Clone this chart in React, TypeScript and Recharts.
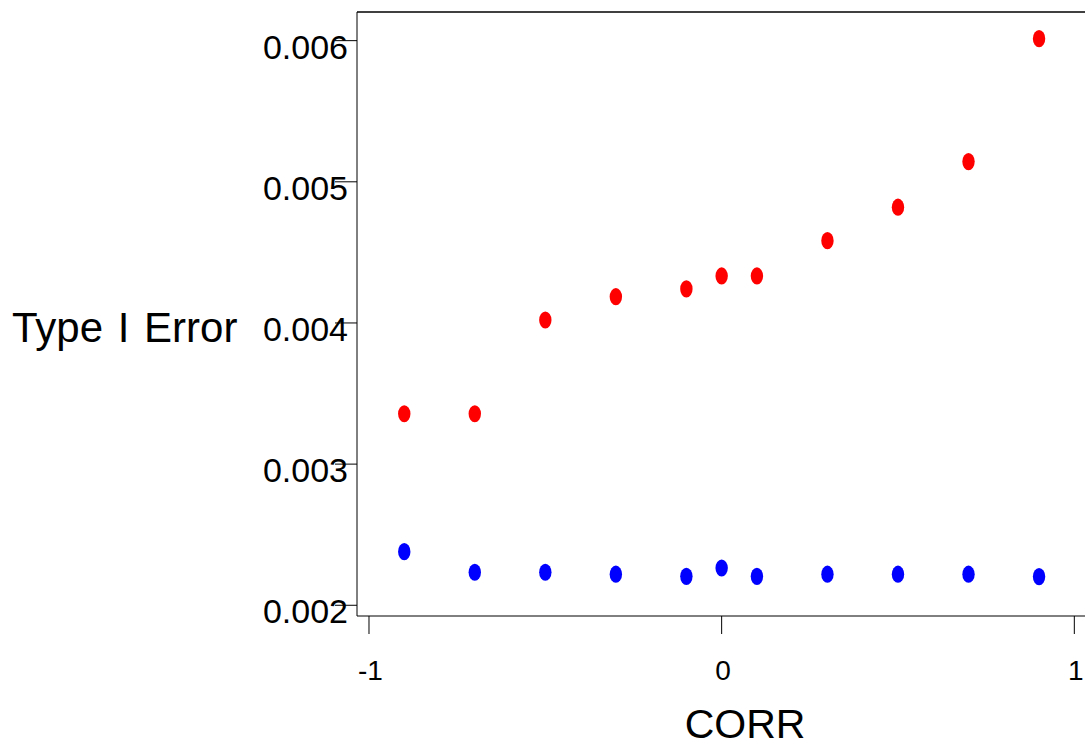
import { ScatterChart, Scatter, XAxis, YAxis, Label, ReferenceLine } from 'recharts';

const corr = [-0.9, -0.7, -0.5, -0.3, -0.1, 0, 0.1, 0.3, 0.5, 0.7, 0.9];
const redError = [
  0.003357, 0.003357, 0.004021, 0.004186, 0.004241, 0.004333, 0.004333,
  0.004583, 0.00482, 0.005143, 0.006014,
];
const blueError = [
  0.00238, 0.002234, 0.002234, 0.00222, 0.002205, 0.002264, 0.002205,
  0.00222, 0.00222, 0.00222, 0.002203,
];
const xTicks = [-1, 0, 1];
const yTicks = [0.002, 0.003, 0.004, 0.005, 0.006];

const redData = corr.map((x, i) => ({ x, y: redError[i] }));
const blueData = corr.map((x, i) => ({ x, y: blueError[i] }));

const FONT = '"Liberation Sans", Arial, sans-serif';
const Y_MAX = 0.006203;

function dot(color: string) {
  return (props: any) => (
    <ellipse cx={props.cx} cy={props.cy} rx={6.2} ry={8.6} fill={color} />
  );
}

function YTick(props: any) {
  const { x, y, payload } = props;
  return (
    <text
      x={x + 15}
      y={y + 18}
      textAnchor="end"
      fontSize={34}
      fontFamily={FONT}
      fill="#000"
    >
      {payload.value.toFixed(3)}
    </text>
  );
}

function XTick(props: any) {
  const { x, payload } = props;
  return (
    <text
      x={x + 1.5}
      y={680}
      textAnchor="middle"
      fontSize={28}
      fontFamily={FONT}
      fill="#000"
    >
      {payload.value}
    </text>
  );
}

export default function App() {
  return (
    <div>
      <style>{'body{margin:0}'}</style>
      <ScatterChart
        width={1085}
        height={744}
        margin={{ top: 12, right: 0, left: 0, bottom: 0 }}
      >
        <XAxis
          type="number"
          dataKey="x"
          domain={[-1.034, 1.0303]}
          allowDataOverflow
          ticks={xTicks}
          tickSize={18}
          height={128}
          axisLine={{ stroke: '#000' }}
          tickLine={{ stroke: '#000' }}
          tick={<XTick />}
        >
          <Label
            content={() => (
              <text
                x={745}
                y={738}
                textAnchor="middle"
                fontSize={41}
                fontFamily={FONT}
                fill="#000"
              >
                CORR
              </text>
            )}
          />
        </XAxis>
        <YAxis
          type="number"
          dataKey="y"
          domain={[0.001924, Y_MAX]}
          allowDataOverflow
          ticks={yTicks}
          tickSize={22}
          width={357}
          axisLine={{ stroke: '#000' }}
          tickLine={{ stroke: '#000' }}
          tick={<YTick />}
        >
          <Label
            content={() => (
              <text
                x={12}
                y={342}
                textAnchor="start"
                fontSize={42}
                fontFamily={FONT}
                wordSpacing={3}
                fill="#000"
              >
                Type I Error
              </text>
            )}
          />
        </YAxis>
        <ReferenceLine y={Y_MAX} stroke="#000" strokeWidth={1.5} />
        <Scatter
          data={redData}
          fill="#ff0000"
          shape={dot('#ff0000')}
          isAnimationActive={false}
        />
        <Scatter
          data={blueData}
          fill="#0000ff"
          shape={dot('#0000ff')}
          isAnimationActive={false}
        />
      </ScatterChart>
    </div>
  );
}
